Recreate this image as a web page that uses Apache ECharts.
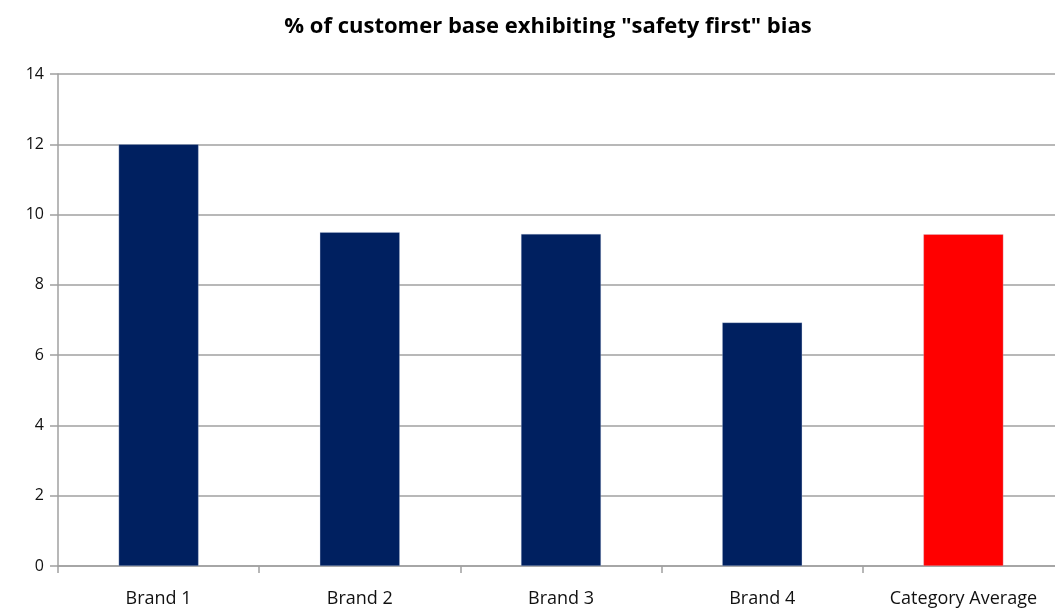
<!DOCTYPE html>
<html><head><meta charset="utf-8">
<script src="https://cdn.jsdelivr.net/npm/echarts@6/dist/echarts.min.js"></script>
<style>html,body{margin:0;padding:0;background:#fff;overflow:hidden;width:1055px;height:613px;}#c{width:1064px;height:613px;}</style>
</head><body><div id="c"></div>
<script>
const categories = ["Brand 1", "Brand 2", "Brand 3", "Brand 4", "Category Average"];
const values = [12, 9.5, 9.45, 6.93, 9.44];
const barColors = ["#002060", "#002060", "#002060", "#002060", "#FF0000"];
const titleText = '% of customer base exhibiting "safety first" bias';

const chart = echarts.init(document.getElementById('c'));
chart.setOption({
  animation: false,
  backgroundColor: '#ffffff',
  title: {
    text: titleText, left: 543, textAlign: 'center', top: 11,
    textStyle: { fontFamily: 'Open Sans', fontSize: 22, fontWeight: 'bold', color: '#000' }
  },
  grid: { left: 58, top: 74, right: 0, bottom: 47, containLabel: false },
  xAxis: {
    type: 'category', data: categories,
    axisLine: { lineStyle: { color: '#a0a0a0', width: 1.5 } },
    axisTick: { show: true, length: 7, lineStyle: { color: '#a0a0a0', width: 1.5 } },
    axisLabel: { margin: 24, fontFamily: 'Open Sans', fontSize: 18, color: '#111' }
  },
  yAxis: {
    type: 'value', min: 0, max: 14, interval: 2,
    axisLine: { show: true, lineStyle: { color: '#a0a0a0', width: 1.5 } },
    axisTick: { show: true, length: 8, lineStyle: { color: '#a0a0a0', width: 1.5 } },
    splitLine: { lineStyle: { color: '#a0a0a0', width: 1.5 } },
    axisLabel: { margin: 14, fontFamily: 'Open Sans', fontSize: 16, color: '#111' }
  },
  series: [{
    type: 'bar', barWidth: 80,
    data: values.map((v, i) => ({ value: v, itemStyle: { color: barColors[i] } })),
    itemStyle: { borderColor: 'rgba(200,210,230,0.6)', borderWidth: 0.5 }
  }]
});
</script></body></html>
